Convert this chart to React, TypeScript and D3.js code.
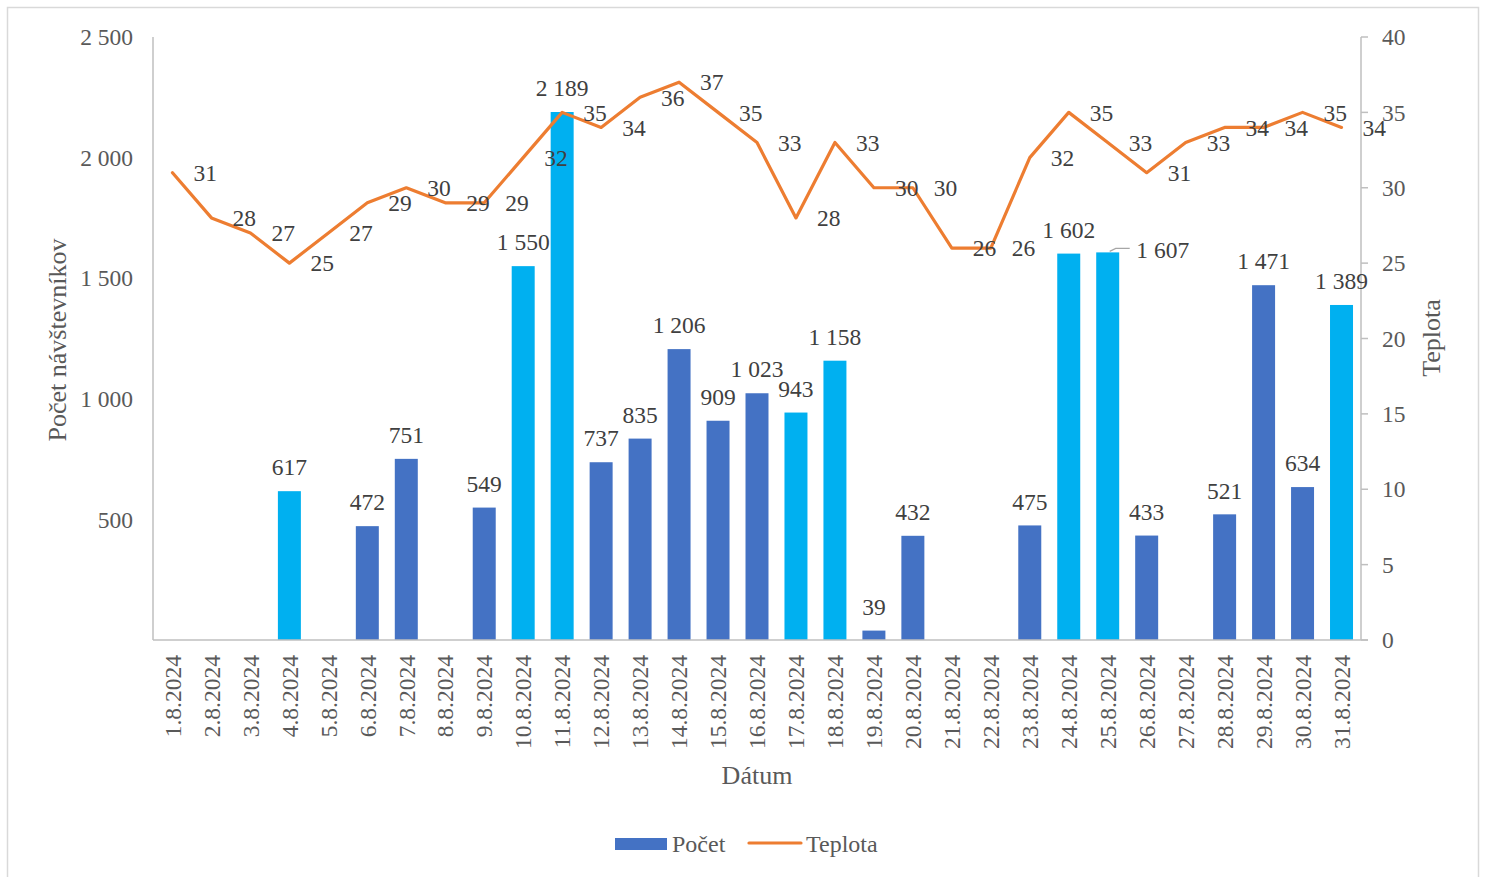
import React from "react";
import * as d3 from "d3";

const dates = Array.from({ length: 31 }, (_, i) => `${i + 1}.8.2024`);
const visitors = [0, 0, 0, 617, 0, 472, 751, 0, 549, 1550, 2189, 737, 835, 1206, 909, 1023, 943, 1158, 39, 432, 0, 0, 475, 1602, 1607, 433, 0, 521, 1471, 634, 1389];
const temps = [31, 28, 27, 25, 27, 29, 30, 29, 29, 32, 35, 34, 36, 37, 35, 33, 28, 33, 30, 30, 26, 26, 32, 35, 33, 31, 33, 34, 34, 35, 34];
const weekendIdx = [2, 3, 9, 10, 16, 17, 23, 24, 30];
const leftTicks = [500, 1000, 1500, 2000, 2500];
const rightTicks = [0, 5, 10, 15, 20, 25, 30, 35, 40];

const W = 1486, H = 877;
const L = 153, R = 1361, T = 37, B = 640;
const FONT = "'Liberation Serif', 'Times New Roman', serif";
const FS = 23.5;
const fmt = (n: number) => String(n).replace(/\B(?=(\d{3})+(?!\d))/g, " ");

export default function App() {
  const x = d3.scaleBand<string>().domain(dates).range([L, R]).paddingInner(0.41).paddingOuter(0.205);
  const yL = d3.scaleLinear().domain([0, 2500]).range([B, T]);
  const yR = d3.scaleLinear().domain([0, 40]).range([B, T]);
  const cx = (d: string) => (x(d) as number) + x.bandwidth() / 2;
  const line = d3.line<number>().x((_, i) => cx(dates[i])).y((t) => yR(t));

  return (
    <svg width={W} height={H} style={{ position: "absolute", left: 0, top: 0, fontFamily: FONT }}>
      <rect x={0} y={0} width={W} height={H} fill="#fff" />
      <rect x={7.5} y={7.5} width={1471} height={880} fill="none" stroke="#D9D9D9" strokeWidth={1.5} />
      {/* bars */}
      {visitors.map((v, i) =>
        v > 0 ? (
          <rect key={i} x={x(dates[i])} y={yL(v)} width={x.bandwidth()} height={B - yL(v)}
            fill={weekendIdx.includes(i) ? "#00B0F0" : "#4472C4"} />
        ) : null
      )}
      {/* axes */}
      <line x1={L} x2={L} y1={T} y2={B} stroke="#BFBFBF" strokeWidth={1.5} />
      <line x1={L} x2={R + 7} y1={B} y2={B} stroke="#BFBFBF" strokeWidth={1.5} />
      <line x1={R} x2={R} y1={T} y2={B} stroke="#BFBFBF" strokeWidth={1.5} />
      {rightTicks.map((t) => (
        <g key={t}>
          <line x1={R} x2={R + 7} y1={yR(t)} y2={yR(t)} stroke="#BFBFBF" strokeWidth={1.5} />
          <text x={R + 21} y={yR(t)} dy="0.35em" fontSize={FS} fill="#595959">{t}</text>
        </g>
      ))}
      {leftTicks.map((t) => (
        <text key={t} x={133} y={yL(t)} dy="0.35em" textAnchor="end" fontSize={FS} fill="#595959">{fmt(t)}</text>
      ))}
      {dates.map((d) => (
        <text key={d} transform={`translate(${cx(d)},655) rotate(-90)`} dy="0.35em" textAnchor="end" fontSize={FS} fill="#595959">{d}</text>
      ))}
      {/* line */}
      <path d={line(temps) as string} fill="none" stroke="#ED7D31" strokeWidth={3.2} strokeLinejoin="round" strokeLinecap="round" />
      {/* bar labels */}
      {visitors.map((v, i) => {
        if (v <= 0) return null;
        if (i === 24) {
          const bx = cx(dates[i]);
          const by = yL(v);
          return (
            <g key={i}>
              <polyline points={`${bx + 2},${by - 1} ${bx + 8},${by - 4} ${bx + 22},${by - 4}`} fill="none" stroke="#A6A6A6" strokeWidth={1.2} />
              <text x={bx + 55} y={by - 3} dy="0.35em" textAnchor="middle" fontSize={FS} fill="#404040">{fmt(v)}</text>
            </g>
          );
        }
        return (
          <text key={i} x={cx(dates[i])} y={yL(v) - 24} dy="0.35em" textAnchor="middle" fontSize={FS} fill="#404040">{fmt(v)}</text>
        );
      })}
      {/* line labels */}
      {temps.map((t, i) => (
        <text key={i} x={cx(dates[i]) + 21} y={yR(t)} dy="0.35em" fontSize={FS} fill="#404040">{t}</text>
      ))}
      {/* titles */}
      <text transform={`translate(57,340) rotate(-90)`} dy="0.35em" textAnchor="middle" fontSize={26} fill="#595959">Počet návštevníkov</text>
      <text transform={`translate(1431,338) rotate(-90)`} dy="0.35em" textAnchor="middle" fontSize={26} fill="#595959">Teplota</text>
      <text x={757} y={775} dy="0.35em" textAnchor="middle" fontSize={26} fill="#595959">Dátum</text>
      {/* legend */}
      <rect x={615} y={838} width={52} height={12} fill="#4472C4" />
      <text x={672} y={844} dy="0.35em" fontSize={24} fill="#595959">Počet</text>
      <line x1={749} x2={801} y1={843} y2={843} stroke="#ED7D31" strokeWidth={3.2} strokeLinecap="round" />
      <text x={806} y={844} dy="0.35em" fontSize={24} fill="#595959">Teplota</text>
    </svg>
  );
}
